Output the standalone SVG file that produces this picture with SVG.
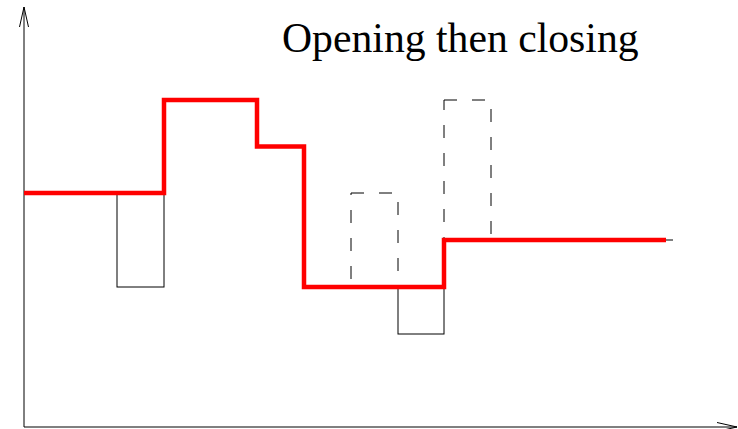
<svg xmlns="http://www.w3.org/2000/svg" width="738" height="429" viewBox="0 0 738 429">
<style>
.thin{fill:none;stroke:#000;stroke-width:1}
.dash{fill:none;stroke:#000;stroke-width:1;stroke-dasharray:13 15}
.red{fill:none;stroke:#ff0000;stroke-width:4.5;stroke-linejoin:miter;stroke-linecap:butt}
.title{font-family:"Liberation Serif",serif;font-size:41.7px;fill:#000}
</style>
<defs>
<marker id="open" viewBox="0 0 20 10" refX="20" refY="5" markerWidth="20" markerHeight="10" markerUnits="userSpaceOnUse" orient="auto">
<polyline points="0,0.5 20,5 0,9.5" fill="none" stroke="#000" stroke-width="1"/>
</marker>
</defs>
<g id="axes">
<line class="thin" x1="24" y1="427" x2="24" y2="7" marker-end="url(#open)"/>
<line class="thin" x1="24" y1="427" x2="737" y2="427" marker-end="url(#open)"/>
</g>
<g id="boxes">
<rect id="box1" class="thin" x="117" y="193" width="47" height="94"/>
<rect id="box2" class="dash" x="351" y="193" width="47" height="94"/>
<rect id="box3" class="thin" x="398" y="287" width="46" height="47"/>
<rect id="box4" class="dash" x="444" y="100" width="47" height="140"/>
<line class="thin" x1="660" y1="240" x2="673" y2="240"/>
</g>
<g id="connectors">
<polyline class="red" points="24,193 164,193 164,100 257,100 257,146.5 304,146.5 304,287 444,287 444,240 666,240"/>
</g>
<text class="title" x="282" y="52">Opening then closing</text>
</svg>
